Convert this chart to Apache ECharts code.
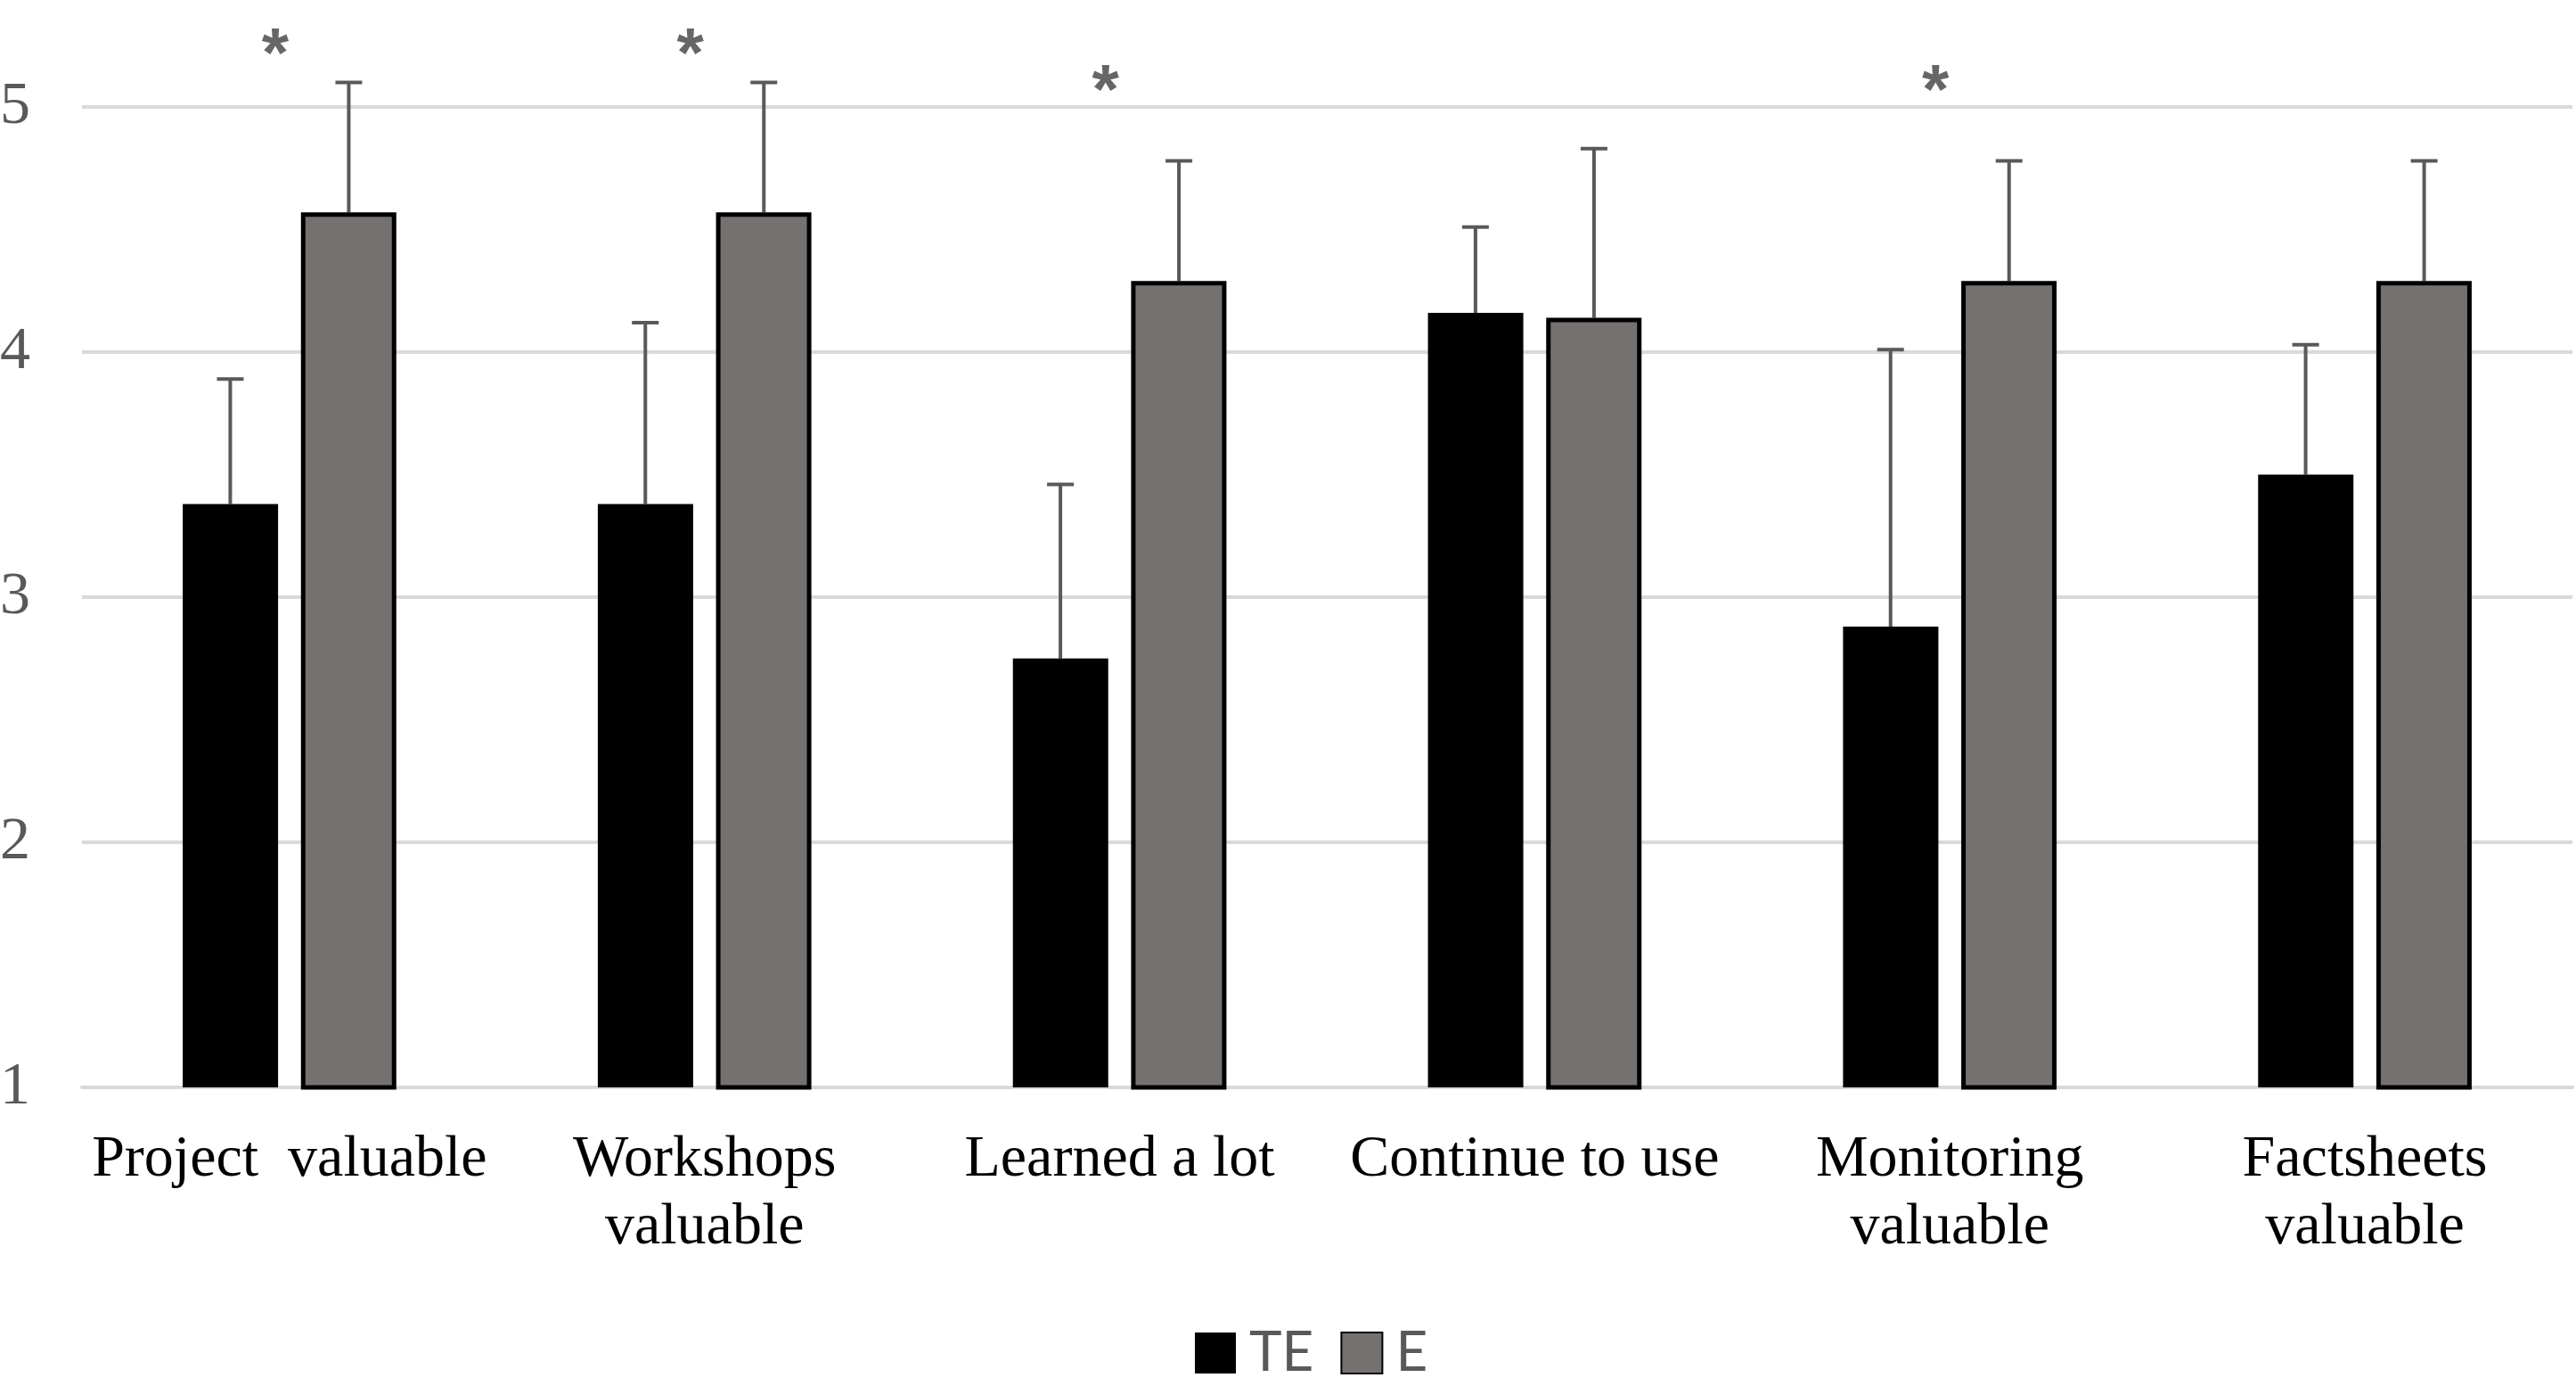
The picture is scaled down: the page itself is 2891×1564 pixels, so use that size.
<!DOCTYPE html>
<html>
<head>
<meta charset="utf-8">
<script src="https://cdn.jsdelivr.net/npm/echarts@6/dist/echarts.min.js"></script>
<style>
  html, body { margin: 0; padding: 0; background: #fff; }
  #chart { width: 2891px; height: 1564px; }
</style>
</head>
<body>
<div id="chart"></div>
<script>
var categories = ['Project  valuable', 'Workshops\nvaluable', 'Learned a lot', 'Continue to use', 'Monitoring\nvaluable', 'Factsheets\nvaluable'];
var teMean = [3.38, 3.38, 2.75, 4.16, 2.88, 3.50];
var teUpper = [3.89, 4.12, 3.46, 4.51, 4.01, 4.03];
var eMean = [4.57, 4.57, 4.29, 4.14, 4.29, 4.29];
var eUpper = [5.10, 5.10, 4.78, 4.83, 4.78, 4.78];
// where the significance stars sit (null = no star)
var starLevel = [5.25, 5.25, 5.10, null, 5.10, null];

var BAR_W = 107;
var OFFSET = 66.5;

function errorBar(offset) {
    return function(params, api) {
        var p0 = api.coord([api.value(0), api.value(1)]);
        var p1 = api.coord([api.value(0), api.value(2)]);
        var cx = p0[0] + offset;
        var st = { stroke: '#595959', lineWidth: 4 };
        return {
            type: 'group',
            children: [
                { type: 'line', shape: { x1: cx, y1: p0[1], x2: cx, y2: p1[1] }, style: st },
                { type: 'line', shape: { x1: cx - 15, y1: p1[1], x2: cx + 15, y2: p1[1] }, style: st }
            ]
        };
    };
}

function errData(mean, upper) {
    var ret = [];
    for (var i = 0; i < mean.length; i++) {
        ret.push([i, mean[i], upper[i]]);
    }
    return ret;
}

var starData = [];
for (var i = 0; i < starLevel.length; i++) {
    if (starLevel[i] != null) starData.push([i, starLevel[i]]);
}

var myChart = echarts.init(document.getElementById('chart'));

var option = {
    backgroundColor: '#fff',
    animation: false,
    grid: { left: 92, right: 4, top: 120, bottom: 344, outerBoundsMode: 'none' },
    legend: {
        data: ['TE', 'E'],
        left: 1336,
        top: 1482,
        icon: 'rect',
        itemWidth: 46,
        itemHeight: 46,
        itemGap: 30,
        textStyle: { color: '#595959', fontSize: 62, fontFamily: 'Lato', padding: [0, 0, 0, 10] }
    },
    xAxis: {
        type: 'category',
        data: categories,
        axisTick: { show: false },
        axisLine: { lineStyle: { color: '#d9d9d9', width: 4 } },
        axisLabel: {
            color: '#000',
            fontSize: 66,
            fontFamily: 'Liberation Serif',
            lineHeight: 76,
            margin: 44,
            interval: 0
        }
    },
    yAxis: {
        type: 'value',
        min: 1,
        max: 5,
        interval: 1,
        axisLine: { show: false },
        axisTick: { show: false },
        axisLabel: {
            color: '#595959',
            fontSize: 68,
            fontFamily: 'Liberation Serif',
            margin: 58
        },
        splitLine: { lineStyle: { color: '#d9d9d9', width: 4 } }
    },
    series: [
        {
            name: 'TE',
            type: 'bar',
            data: teMean,
            barWidth: BAR_W,
            barGap: '24%',
            itemStyle: { color: '#000' }
        },
        {
            name: 'E',
            type: 'bar',
            data: eMean,
            barWidth: BAR_W,
            barGap: '24%',
            itemStyle: { color: '#767171', borderColor: '#000', borderWidth: 5 }
        },
        {
            type: 'custom',
            renderItem: errorBar(-OFFSET),
            data: errData(teMean, teUpper),
            clip: false,
            z: 1
        },
        {
            type: 'custom',
            renderItem: errorBar(OFFSET),
            data: errData(eMean, eUpper),
            clip: false,
            z: 1
        },
        {
            type: 'scatter',
            data: starData,
            symbolSize: 1,
            itemStyle: { color: 'rgba(0,0,0,0)' },
            clip: false,
            label: {
                show: true,
                position: 'inside',
                formatter: '*',
                color: '#404040',
                fontSize: 78,
                fontWeight: 'bold',
                fontFamily: 'Liberation Sans',
                offset: [-16, 13]
            }
        }
    ]
};

myChart.setOption(option);
window.addEventListener('resize', function() {
    myChart.resize();
});
</script>
</body>
</html>
